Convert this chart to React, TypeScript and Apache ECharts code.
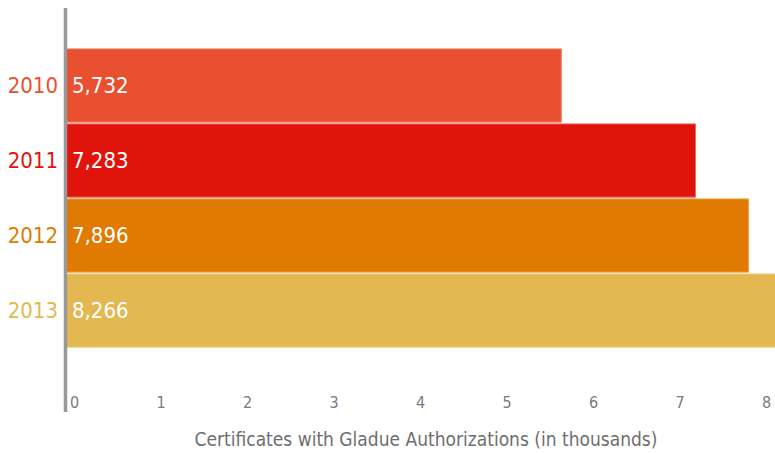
import React, { useEffect, useRef } from "react";
import * as echarts from "echarts";

const years = ["2010", "2011", "2012", "2013"];
const certificates = [5732, 7283, 7896, 8266];
const barColors = ["#E85030", "#E0140A", "#E07A00", "#E3B850"];
const borderColors = ["#F0826A", "#EC6A60", "#EFA450", "#EDCF8A"];
const xTicks = [0, 1000, 2000, 3000, 4000, 5000, 6000, 7000, 8000];
const axisTitle = "Certificates with Gladue Authorizations (in thousands)";

const FONT = "'DejaVu Sans Condensed', 'Liberation Sans Narrow', sans-serif";

export default function App() {
  const ref = useRef<HTMLDivElement>(null);
  useEffect(() => {
    if (!ref.current) return;
    const chart = echarts.init(ref.current, null, { renderer: "svg" });
    chart.setOption({
      animation: false,
      textStyle: { fontFamily: FONT },
      grid: { left: 66, right: 17, top: 48, bottom: 104, containLabel: false },
      xAxis: {
        type: "value",
        min: xTicks[0],
        max: xTicks[xTicks.length - 1],
        interval: 1000,
        axisLine: { show: false },
        axisTick: { show: false },
        splitLine: { show: false },
        axisLabel: {
          margin: 46,
          align: "left",
          padding: [0, 0, 0, 4],
          fontSize: 16,
          color: "#7a7a7a",
          fontFamily: FONT,
          formatter: (v: number) => String(v / 1000),
        },
        name: axisTitle,
        nameLocation: "middle",
        nameGap: 81,
        nameTextStyle: { fontSize: 19, color: "#6e6e6e", fontFamily: FONT, padding: [0, 0, 0, 28] },
      },
      yAxis: {
        type: "category",
        data: years,
        inverse: true,
        axisLine: { show: false },
        axisTick: { show: false },
        axisLabel: {
          margin: 8,
          fontSize: 22,
          fontFamily: FONT,
          color: (_v: string, i: number) => barColors[i],
        },
      },
      series: [
        {
          type: "bar",
          clip: false,
          barCategoryGap: "1%",
          data: certificates.map((v, i) => ({
            value: v,
            itemStyle: { color: barColors[i], borderColor: borderColors[i], borderWidth: 1 },
          })),
          label: {
            show: true,
            position: "insideLeft",
            distance: 6,
            color: "#ffffff",
            fontSize: 22,
            fontFamily: FONT,
            formatter: (p: any) => Number(p.value).toLocaleString("en-US"),
          },
        },
      ],
      graphic: [
        {
          type: "line",
          shape: { x1: 65.5, y1: 8, x2: 65.5, y2: 412 },
          style: { stroke: "#999999", lineWidth: 3.5 },
          z: 100,
        },
      ],
    });
    return () => chart.dispose();
  }, []);
  return (
    <div
      ref={ref}
      style={{ position: "fixed", left: 0, top: 0, width: 775, height: 453, background: "#fff" }}
    />
  );
}
